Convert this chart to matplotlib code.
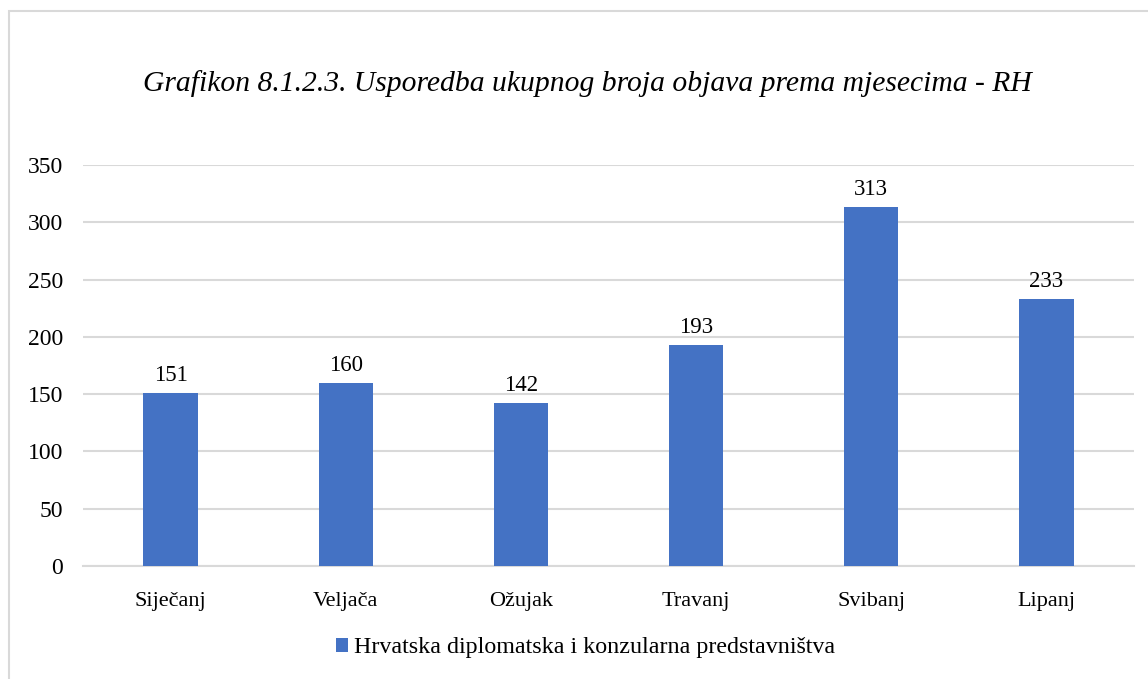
import matplotlib
matplotlib.use("Agg")
import matplotlib.pyplot as plt
from matplotlib.patches import Rectangle, Patch

categories = ["Siječanj", "Veljača", "Ožujak", "Travanj", "Svibanj", "Lipanj"]
values = [151, 160, 142, 193, 313, 233]
yticks = [0, 50, 100, 150, 200, 250, 300, 350]
series_name = "Hrvatska diplomatska i konzularna predstavništva"
title = "Grafikon 8.1.2.3. Usporedba ukupnog broja objava prema mjesecima - RH"

plt.rcParams['font.family'] = ['Liberation Serif', 'DejaVu Serif']

W, H = 1148, 679
fig = plt.figure(figsize=(W / 100, H / 100), dpi=100)
fig.patch.set_facecolor('white')

# outer chart border (extends past right/bottom edge)
fig.patches.append(Rectangle((9 / W, -0.05), 1.2, 1 - 11 / H + 0.05,
                             transform=fig.transFigure, fill=False,
                             edgecolor='#D9D9D9', linewidth=1.5, zorder=0))

ax = fig.add_axes([83 / W, 1 - 566 / H, (1134 - 83) / W, (566 - 165) / H])
x = list(range(len(categories)))
bars = ax.bar(x, values, width=0.31, color='#4472C4', zorder=3)
ax.set_xlim(-0.5, len(categories) - 0.5)
ax.set_ylim(0, 350)
ax.set_yticks(yticks)
ax.set_yticklabels([str(v) for v in yticks])
ax.set_xticks(x)
ax.set_xticklabels(categories)
ax.grid(axis='y', color='#D9D9D9', linewidth=1.5, zorder=0)
ax.set_axisbelow(True)
for s in ['top', 'right', 'left']:
    ax.spines[s].set_visible(False)
ax.spines['bottom'].set_color('#D9D9D9')
ax.spines['bottom'].set_linewidth(1.5)
ax.tick_params(axis='both', length=0, colors='black')
ax.tick_params(axis='y', pad=14.5, labelsize=17)
ax.tick_params(axis='x', pad=18.5, labelsize=16)

for b, v in zip(bars, values):
    ax.annotate(str(v), (b.get_x() + b.get_width() / 2, v),
                xytext=(0, 5), textcoords='offset points',
                ha='center', va='bottom', fontsize=16.5)

fig.text(587 / W, 1 - 84 / H, title, ha='center', va='center',
         fontsize=21.3, style='italic')

handle = Patch(facecolor='#4472C4')
fig.legend([handle], [series_name], loc='center', bbox_to_anchor=(586 / W, 1 - 648 / H),
           frameon=False, fontsize=17.3, handlelength=0.5, handleheight=0.5,
           handletextpad=0.25)

fig.savefig('out.png', dpi=100)
